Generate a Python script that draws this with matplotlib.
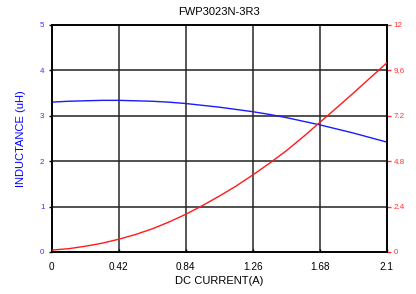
import matplotlib
matplotlib.use("Agg")
import matplotlib.pyplot as plt

plt.rcParams['font.family'] = ['Liberation Sans', 'DejaVu Sans']

current = [0, 0.105, 0.21, 0.315, 0.42, 0.525, 0.63, 0.735, 0.84, 0.945, 1.05,
           1.155, 1.26, 1.365, 1.47, 1.575, 1.68, 1.785, 1.89, 1.995, 2.1]
inductance = [3.30, 3.32, 3.33, 3.34, 3.34, 3.33, 3.32, 3.30, 3.27, 3.23, 3.19,
              3.14, 3.09, 3.03, 2.96, 2.88, 2.80, 2.71, 2.62, 2.52, 2.42]
temp_rise = [0.1, 0.17, 0.3, 0.46, 0.67, 0.92, 1.22, 1.58, 1.99, 2.45, 2.95,
             3.48, 4.07, 4.69, 5.35, 6.08, 6.85, 7.62, 8.4, 9.2, 10.0]

x_ticks = [0, 0.42, 0.84, 1.26, 1.68, 2.1]
x_labels = ["0", "0.42", "0.84", "1.26", "1.68", "2.1"]
left_ticks = [0, 1, 2, 3, 4, 5]
right_ticks = [0, 2.4, 4.8, 7.2, 9.6, 12]
right_labels = ["0", "2.4", "4.8", "7.2", "9.6", "12"]

title = "FWP3023N-3R3"
xlabel = "DC CURRENT(A)"
ylabel = "INDUCTANCE (uH)"

fig = plt.figure(figsize=(4.16, 2.94), dpi=100)
ax = fig.add_axes([0.1238, 0.143, 0.930 - 0.1238, 0.915 - 0.143])

ax.set_xlim(0, 2.1)
ax.set_ylim(0, 5)
ax.set_xticks(x_ticks)
ax.set_xticklabels(x_labels, fontsize=7.2)
ax.set_yticks(left_ticks)
ax.set_yticklabels([str(t) for t in left_ticks], fontsize=5.8, color='#3333ff')
ax.tick_params(axis='x', length=2, width=1, pad=7, colors='black', direction='in')
ax.tick_params(axis='y', length=2, width=1, pad=3, direction='out')

for xv in x_ticks[1:-1]:
    ax.axvline(xv, color='#555555', lw=1.4, zorder=1)
for yv in left_ticks[1:-1]:
    ax.axhline(yv, color='#222222', lw=1.1, zorder=1)
for s in ax.spines.values():
    s.set_color('black')
    s.set_linewidth(1.2)

ax.plot(current, inductance, color='#1a1aff', lw=1.0, zorder=3)

ax2 = ax.twinx()
ax2.set_ylim(0, 12)
ax2.set_yticks(right_ticks)
ax2.set_yticklabels(right_labels, fontsize=5.8, color='#ff3333')
ax2.tick_params(axis='y', length=3, width=1, pad=2, colors='#ff3333')
ax2.plot(current, temp_rise, color='#ff1a1a', lw=1.0, zorder=3)
for s in ax2.spines.values():
    s.set_color('black')
    s.set_linewidth(1.2)

ax.set_title(title, fontsize=8, pad=7)
ax.set_xlabel(xlabel, fontsize=8, labelpad=3)
ax.set_ylabel(ylabel, fontsize=8, color='#0000ff', labelpad=10)

fig.savefig("out.png", dpi=100)
